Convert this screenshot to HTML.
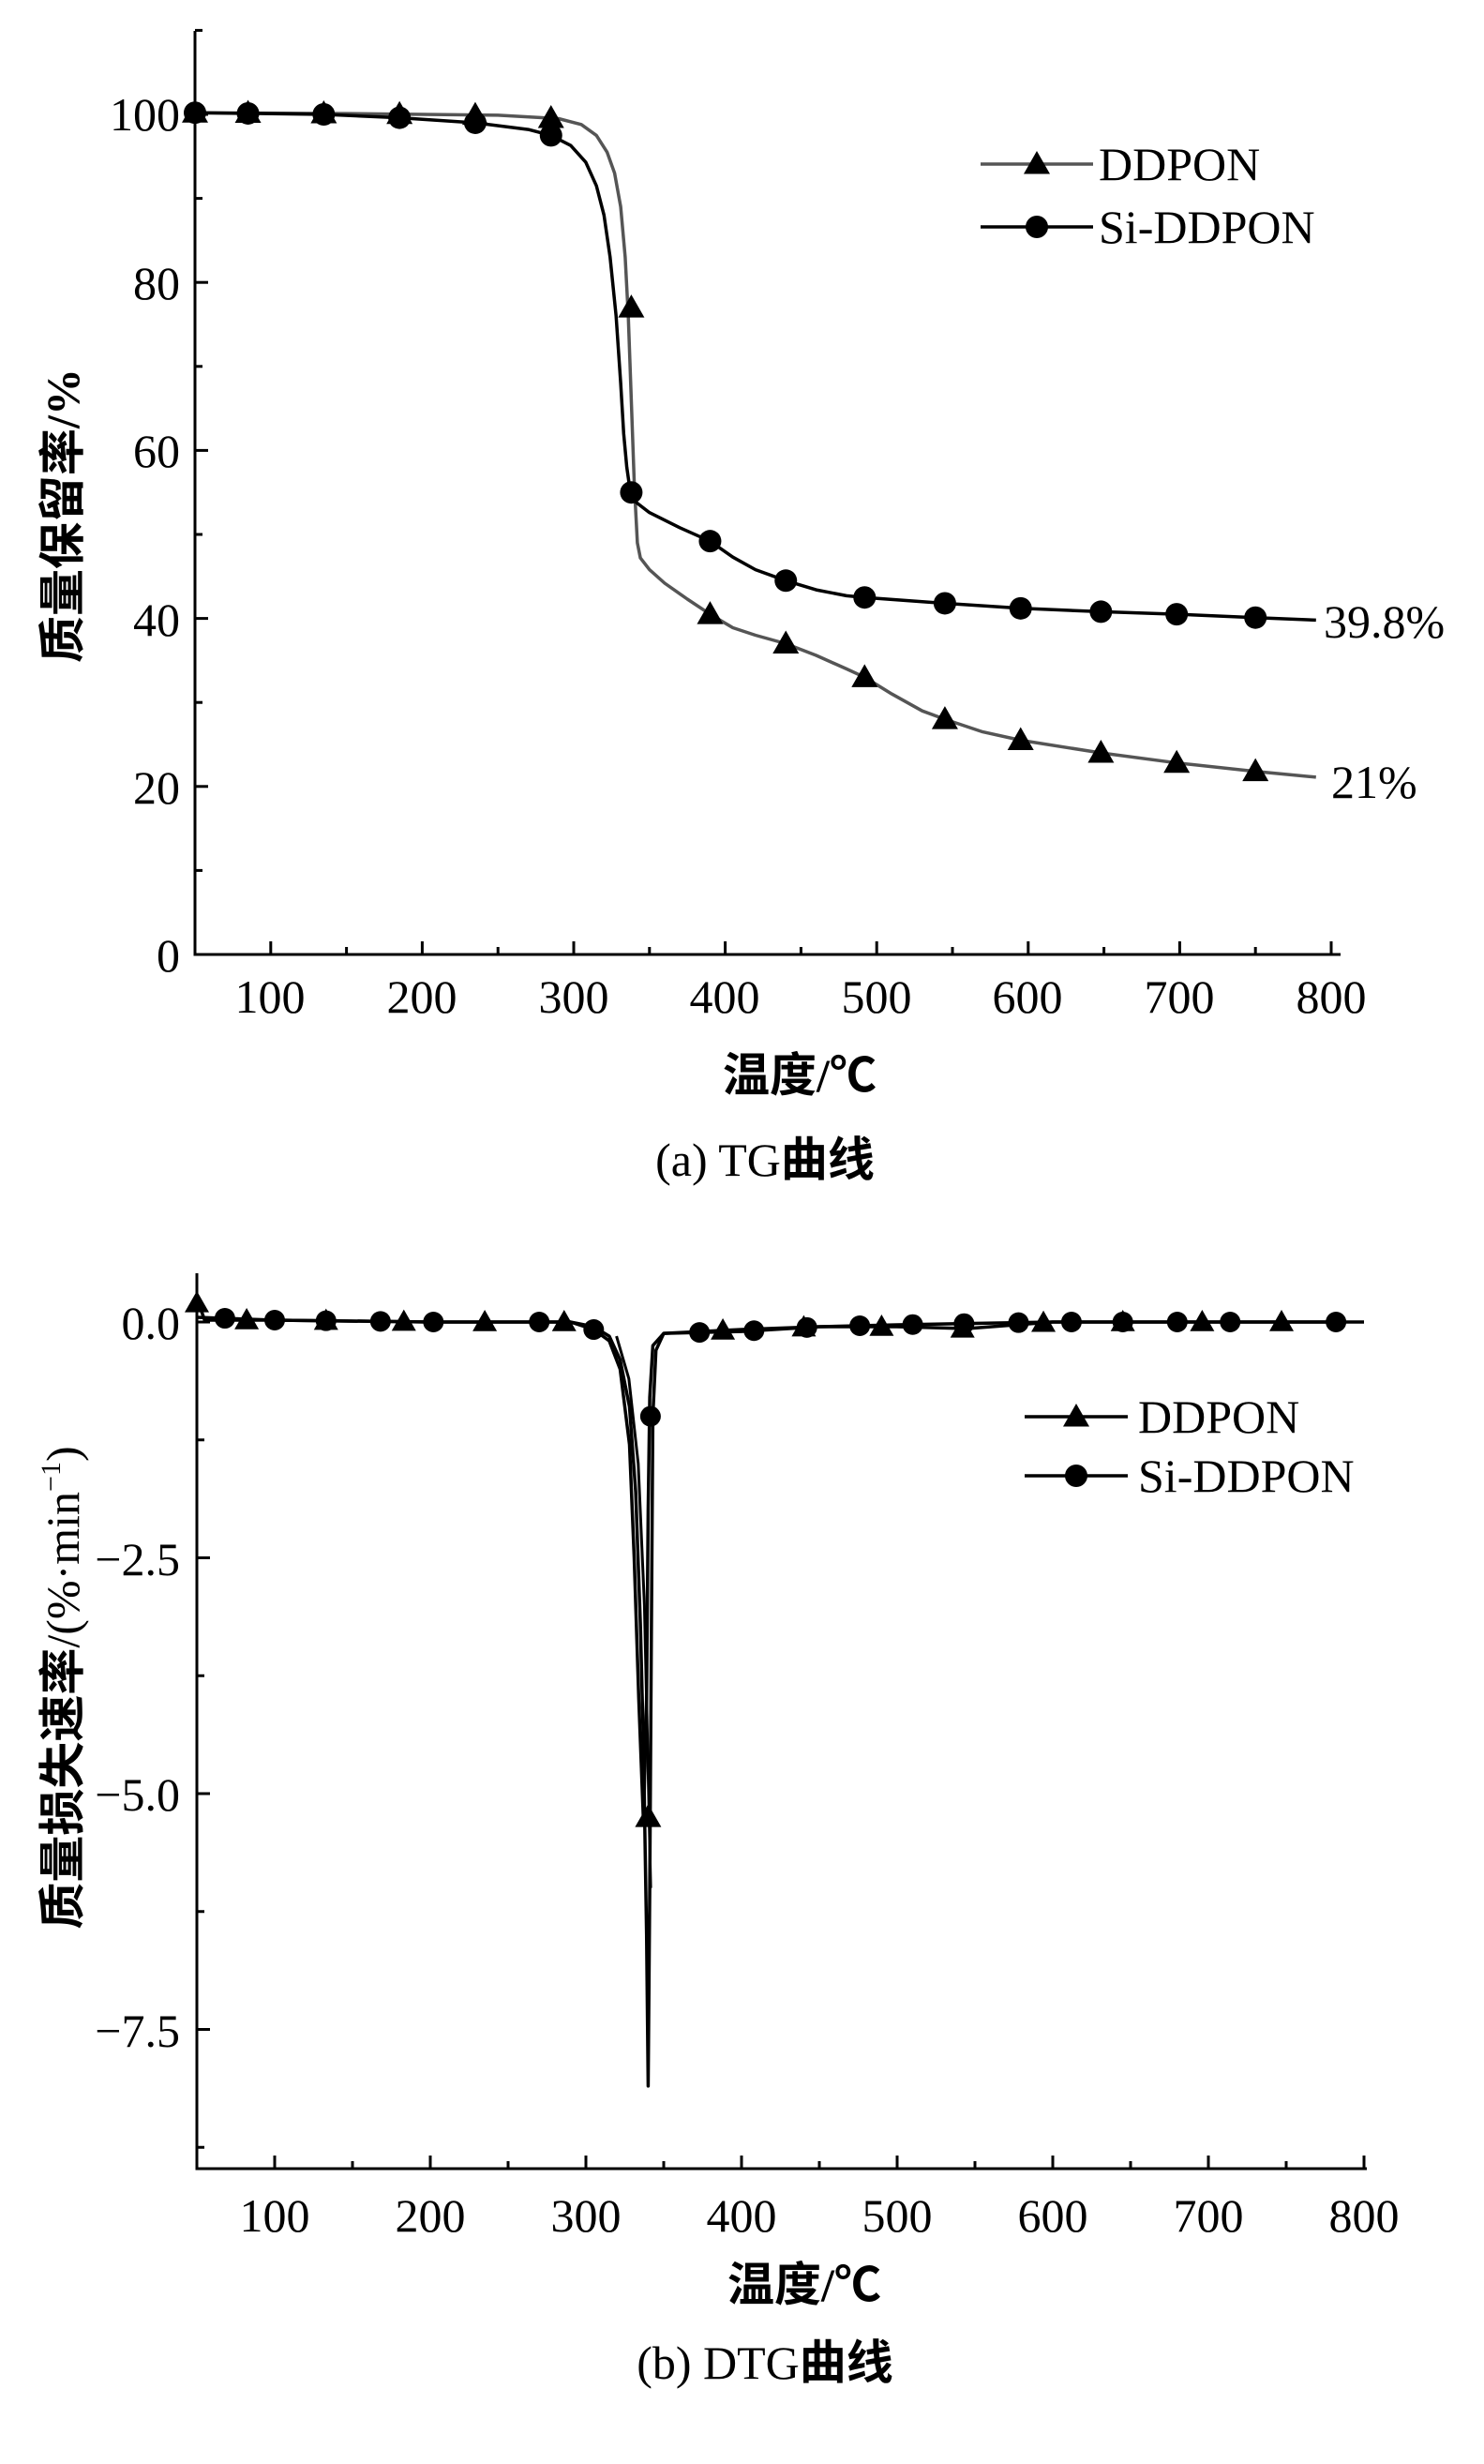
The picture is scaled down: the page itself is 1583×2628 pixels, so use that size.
<!DOCTYPE html>
<html><head><meta charset="utf-8"><style>
html,body{margin:0;padding:0;background:#fff}
svg{display:block}
text{font-family:"Liberation Serif","Noto Serif CJK SC",serif;fill:#000}
.cjk{font-family:"Liberation Serif","Noto Sans CJK SC",sans-serif;font-weight:bold}
</style></head><body>
<svg id="s" width="1583" height="2628" viewBox="0 0 1583 2628" xmlns="http://www.w3.org/2000/svg">
<g stroke="#000" stroke-width="3" fill="none">
<polyline points="208,33 208,1018 1430,1018"/>
<polyline points="210,1358 210,2313 1458,2313"/>
</g>
<g id="ticks" stroke="#000" stroke-width="3"></g>
<g id="series"></g>
<!-- top labels -->
<g font-size="50" text-anchor="end">
<text x="192" y="139">100</text><text x="192" y="319">80</text><text x="192" y="498">60</text>
<text x="192" y="678">40</text><text x="192" y="857">20</text><text x="192" y="1036">0</text>
</g>
<g font-size="50" text-anchor="middle">
<text x="288" y="1080">100</text><text x="450" y="1080">200</text><text x="612" y="1080">300</text>
<text x="773" y="1080">400</text><text x="935" y="1080">500</text><text x="1096" y="1080">600</text>
<text x="1258" y="1080">700</text><text x="1420" y="1080">800</text>
</g>
<text x="853" y="1164" font-size="50" text-anchor="middle" class="cjk">温度/℃</text>
<text x="816" y="1254" font-size="50" text-anchor="middle">(a) TG<tspan class="cjk">曲线</tspan></text>
<text transform="translate(84,550) rotate(-90)" font-size="50" text-anchor="middle" class="cjk">质量保留率/%</text>
<text x="1172" y="192" font-size="50">DDPON</text>
<text x="1172" y="259" font-size="50">Si-DDPON</text>
<text x="1412" y="680" font-size="50">39.8%</text>
<text x="1420" y="851" font-size="50">21%</text>
<!-- bottom labels -->
<g font-size="50" text-anchor="end">
<text x="192" y="1428">0.0</text><text x="192" y="1680">−2.5</text>
<text x="192" y="1931">−5.0</text><text x="192" y="2183">−7.5</text>
</g>
<g font-size="50" text-anchor="middle">
<text x="293" y="2380">100</text><text x="459" y="2380">200</text><text x="625" y="2380">300</text>
<text x="791" y="2380">400</text><text x="957" y="2380">500</text><text x="1123" y="2380">600</text>
<text x="1289" y="2380">700</text><text x="1455" y="2380">800</text>
</g>
<text x="858" y="2454" font-size="50" text-anchor="middle" class="cjk">温度/℃</text>
<text x="816" y="2537" font-size="50" text-anchor="middle">(b) DTG<tspan class="cjk">曲线</tspan></text>
<text transform="translate(84,1800) rotate(-90)" font-size="50" text-anchor="middle"><tspan class="cjk">质量损失速率</tspan>/(%·min<tspan font-size="30" dy="-20">−1</tspan><tspan dy="20">)</tspan></text>
<text x="1214" y="1528" font-size="50">DDPON</text>
<text x="1214" y="1591" font-size="50">Si-DDPON</text>
</svg>
<script>
var NS="http://www.w3.org/2000/svg",s=document.getElementById('series'),tk=document.getElementById('ticks');
function el(n,a,p){var e=document.createElementNS(NS,n);for(var k in a)e.setAttribute(k,a[k]);(p||s).appendChild(e);return e;}
function line(x1,y1,x2,y2){el('line',{x1:x1,y1:y1,x2:x2,y2:y2},tk);}
for(var v=0;v<=110;v+=10){var y=1018-v*8.96;line(208,y,v%20==0?222:216,y);}
for(var T=100;T<=800;T+=50){var x=208+(T-50)*1.616;line(x,1018,x,T%100==0?1004:1010);}
for(var i=0;i<=7;i++){var v=-1.25*i;var y=1410-v*100.6;line(210,y,(i%2==0)?224:218,y);}
for(var T=100;T<=800;T+=50){var x=210+(T-50)*1.66;line(x,2313,x,T%100==0?2299:2305);}
function tri(x,y,r,p){el('polygon',{points:(x)+','+(y-r)+' '+(x-r)+','+(y+r*0.75)+' '+(x+r)+','+(y+r*0.75),fill:'#000'},p);}
function dot(x,y,r,p){el('circle',{cx:x,cy:y,r:r,fill:'#000'},p);}
function X1(T){return 208+(T-50)*1.616} function Y1(v){return 1018-v*8.96}
function X2(T){return 210+(T-50)*1.66} function Y2(v){return 1410-v*100.6}
function path(pts,X,Y,col,w){var d='';pts.forEach(function(p,i){d+=(i?'L':'M')+X(p[0]).toFixed(1)+','+Y(p[1]).toFixed(1);});el('path',{d:d,stroke:col,'stroke-width':w,fill:'none','stroke-linejoin':'round'});}
function interp(pts,T){for(var i=1;i<pts.length;i++){if(T<=pts[i][0]){var a=pts[i-1],b=pts[i];return a[1]+(b[1]-a[1])*(T-a[0])/(b[0]-a[0]);}}return pts[pts.length-1][1];}
var dd=[[50,100.2],[150,100.1],[250,99.9],[290,99.5],[305,98.8],[315,97.5],[322,95.5],[327,93],[331,89],[334,83],[336,76],[338,66],[340,56],[342,49],[344,47.2],[350,45.8],[360,44.2],[375,42.3],[390,40.5],[405,38.9],[420,38],[440,37],[460,35.6],[480,34],[492,33],[510,31],[530,29],[545,28],[570,26.5],[595,25.5],[648,24],[698,22.8],[750,21.8],[790,21.1]];
var si=[[50,100.2],[135,100],[185,99.6],[235,99],[270,98.2],[285,97.5],[298,96.3],[308,94.3],[315,91.5],[320,88],[324,83],[328,76],[331,68],[333,62],[335,58],[337,55.5],[340,54],[350,52.6],[370,50.8],[390,49.2],[405,47.3],[420,45.8],[440,44.5],[460,43.4],[480,42.7],[492,42.5],[545,41.8],[595,41.2],[648,40.8],[698,40.5],[750,40.1],[790,39.8]];
path(dd,X1,Y1,'#555',3.5);path(si,X1,Y1,'#000',3.5);
[50,85,135,185,235,285,338,390,440,492,545,595,648,698,750].forEach(function(T){tri(X1(T),Y1(T==338?77:interp(dd,T)),14);});
[50,85,135,185,235,285,338,390,440,492,545,595,648,698,750].forEach(function(T){dot(X1(T),Y1(T==338?55:interp(si,T)),12);});
el('line',{x1:1046,y1:175,x2:1166,y2:175,stroke:'#555','stroke-width':3.5});tri(1106,175,14);
el('line',{x1:1046,y1:242,x2:1166,y2:242,stroke:'#000','stroke-width':3.5});dot(1106,242,12);
var d2=[[50,0.25],[55,0.02],[100,0.02],[200,0.0],[290,0.0],[305,-0.05],[315,-0.15],[322,-0.4],[328,-0.9],[332,-1.8],[335,-3.2],[337,-4.5],[339,-6.5],[340,-8.1],[341,-6],[342,-3.5],[343,-1],[345,-0.3],[350,-0.12],[400,-0.08],[450,-0.05],[500,-0.05],[545,-0.07],[600,0],[800,0]];
var s2=[[50,0.05],[100,0.02],[200,0.0],[290,0.0],[305,-0.08],[315,-0.2],[322,-0.5],[328,-1.3],[331,-2.5],[334,-4],[337,-5.3],[339,-4],[340,-2],[341,-0.8],[343,-0.25],[350,-0.12],[400,-0.1],[450,-0.05],[500,-0.03],[600,0],[780,0]];
path(d2,X2,Y2,'#000',3.5);path(s2,X2,Y2,'#000',3.5);
path([[316,-0.15],[324,-0.6],[330,-1.5],[334,-3],[336,-4.5],[338,-6]],function(T){return X2(T)+6},Y2,'#000',3);
[50,82,133,183,235,286,388,440,490,542,594,645,696,747].forEach(function(T){tri(X2(T),Y2(T<60?0.2:interp(d2,T)),13);});
tri(X2(340),Y2(-5.25),14);
[68,100,133,168,202,270,305,373,408,442,476,510,543,578,612,645,680,714,782].forEach(function(T){dot(X2(T),Y2(interp(s2,T)),11);});
dot(X2(341.5),Y2(-1.0),11);
el('line',{x1:1093,y1:1511,x2:1203,y2:1511,stroke:'#000','stroke-width':3.5});tri(1148,1511,14);
el('line',{x1:1093,y1:1574,x2:1203,y2:1574,stroke:'#000','stroke-width':3.5});dot(1148,1574,12);
</script>
</body></html>
